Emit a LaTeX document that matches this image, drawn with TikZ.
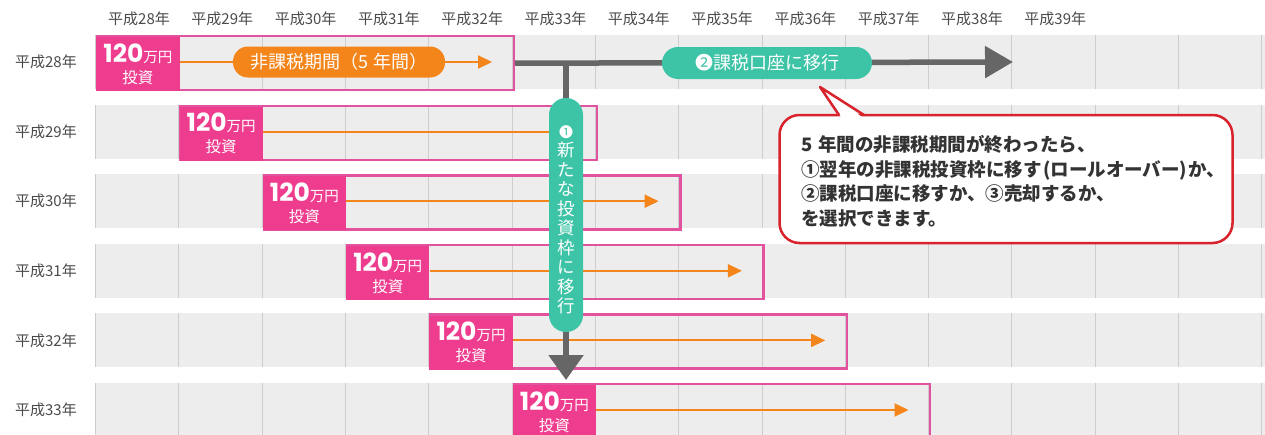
\documentclass[tikz,border=0pt]{standalone}
\usepackage{fontspec}
\setmainfont{Noto Sans CJK JP}
\newfontfamily\numfont{Poppins}
\usetikzlibrary{arrows.meta}

\definecolor{bandgray}{HTML}{EDEDED}
\definecolor{gridgray}{HTML}{CDCDCD}
\definecolor{nisapink}{HTML}{EE3D8E}
\definecolor{framepink}{HTML}{E2539F}
\definecolor{nisaorange}{HTML}{F3851B}
\definecolor{movegreen}{HTML}{3DC3A6}
\definecolor{flowgray}{HTML}{666666}
\definecolor{notered}{HTML}{D8222C}
\definecolor{labeltext}{HTML}{4A4A4A}
\definecolor{notetextc}{HTML}{333333}

% 120万円 / 投資
\newcommand\invtext{{\numfont\bfseries\fontsize{25}{25}\selectfont 120}{\fontsize{14.5}{14.5}\selectfont 万円}\\投資}

\tikzset{
  yearlbl/.style={text=labeltext,font=\fontsize{15}{15}\selectfont,inner sep=0},
  gridline/.style={gridgray,line width=0.8pt},
  framebox/.style={draw=framepink,line width=2.4pt,minimum width=416.5pt,minimum height=54pt,inner sep=0,anchor=north west},
  invbox/.style={fill=nisapink,text=white,minimum width=83.3pt,minimum height=54pt,inner sep=0,anchor=north west,align=center,font=\fontsize{15.5}{21}\selectfont},
  flow/.style={nisaorange,line width=2pt,-{Triangle[length=14pt,width=13pt]}},
  mainflow/.style={flowgray,line width=5.5pt},
  pill/.style={rounded corners=15pt,text=white,font=\fontsize{18}{18}\selectfont,minimum height=31pt,inner sep=0},
  vpill/.style={fill=movegreen,rounded corners=16.9pt,minimum width=34pt,minimum height=234pt,inner sep=0},
  vtext/.style={text=white,align=center,font=\fontsize{17.5}{19.5}\selectfont,inner sep=0},
  notebox/.style={draw=notered,fill=white,line width=2.5pt,rounded corners=20pt,minimum width=453pt,minimum height=128pt,inner sep=0},
  notetext/.style={text=notetextc,anchor=north west,align=left,font=\bfseries\fontsize{18.5}{24.6}\selectfont,inner sep=0}
}

\begin{document}
\begin{tikzpicture}[x=1pt,y=-1pt]
\useasboundingbox (0,0) rectangle (1265,434);

% gray bands with year grid
\foreach \r in {0,...,5}{
  \pgfmathsetmacro\yt{35+69.6*\r}
  \fill[bandgray] (95,\yt) rectangle (1265,\yt+54);
  \foreach \k in {0,...,14}
    \draw[gridline] (95.5+83.3*\k,\yt) -- ++(0,54);
}

% year header
\foreach \k in {0,...,11}{
  \pgfmathtruncatemacro\yr{28+\k}
  \node[yearlbl] (head\k) at (139+83.3*\k,19) {平成\yr 年};
}

% one row per year of investment
\foreach \r in {0,...,5}{
  \pgfmathsetmacro\xl{96+83.3*\r}
  \pgfmathsetmacro\yt{35+69.6*\r}
  \pgfmathtruncatemacro\yr{28+\r}
  \node[yearlbl] (row\r) at (46,\yt+27) {平成\yr 年};
  \node[framebox] (frame\r) at (\xl,\yt) {};
  \node[invbox] (inv\r) at (\xl,\yt+2) {\invtext};
  \coordinate (end\r) at (\xl+396,\yt+27);
  \draw[flow] (inv\r.east |- end\r) -- (end\r);
}

% after five years
\coordinate (split) at (566,62);
\coordinate (taxend) at (1013,62);
\coordinate (newend) at (566,380);
\draw[mainflow,-{Triangle[length=28pt,width=31pt]}] (frame0.east) -- (taxend);
\draw[mainflow,-{Triangle[length=25pt,width=34pt]}] (split) -- (newend);

\node[pill,fill=nisaorange,minimum width=212pt] (taxfree) at (339,62) {非課税期間（5 年間）};
\node[pill,fill=movegreen,minimum width=210pt,minimum height=32pt,rounded corners=16pt] (taxacct) at (767,63) {❷課税口座に移行};
\node[vpill] (rollover) at (566,215) {};
\node[vtext] (rolltext) at (566,220) {{\fontsize{14}{14}\selectfont ❶}\\新\\た\\な\\投\\資\\枠\\に\\移\\行};

% callout
\node[notebox] (note) at (1006,179) {};
\coordinate (ptip) at (820,87);
\fill[white] (841,117) -- (ptip) -- (862,117) -- cycle;
\draw[notered,line width=2.5pt,line join=round] (839,115) -- (ptip) -- (864,115);
\node[notetext] (notetext) at (801,135) {5\kern6pt 年間の非課税期間が終わったら、\\①翌年の非課税投資枠に移す\kern1.5pt(ロールオーバー)\kern1.5pt か、\\②課税口座に移すか、③売却するか、\\を選択できます。};
\end{tikzpicture}
\end{document}
